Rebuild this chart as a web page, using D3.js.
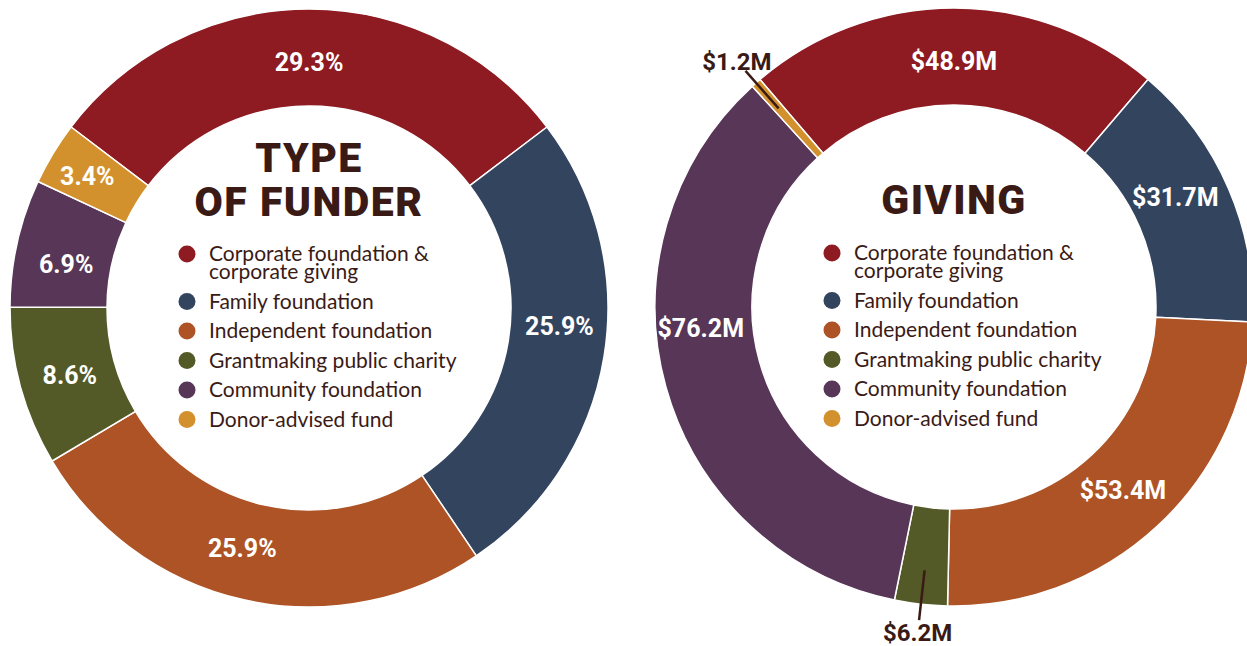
<!DOCTYPE html>
<html>
<head>
<meta charset="utf-8">
<script src="https://cdn.jsdelivr.net/npm/d3@7"></script>
<style>
  html, body { margin: 0; padding: 0; background: #fff; }
  svg { display: block; }
</style>
</head>
<body>
<div id="chart"></div>
<script>
const categories = [
  ["Corporate foundation &", "corporate giving"],
  ["Family foundation"],
  ["Independent foundation"],
  ["Grantmaking public charity"],
  ["Community foundation"],
  ["Donor-advised fund"]
];
const funderShare = [29.3, 25.9, 25.9, 8.6, 6.9, 3.4];
const givingMillions = [48.9, 31.7, 53.4, 6.2, 76.2, 1.2];
const colors = ["#8e1a22", "#33445f", "#ad5325", "#535a27", "#573657", "#d2912c"];

const width = 1247, height = 646;
const outerR = 299, innerR = 202;
const ink = "#3a1a15";

const svg = d3.select("#chart").append("svg")
  .attr("width", width).attr("height", height);

function donut(cx, cy, values, fmt, title, shift, outside) {
  const total = d3.sum(values);
  const start = -values[0] / total * Math.PI;
  const pie = d3.pie().sort(null).startAngle(start).endAngle(start + 2 * Math.PI);
  const arcs = pie(values);
  const arc = d3.arc().innerRadius(innerR).outerRadius(outerR);

  const g = svg.append("g").attr("transform", `translate(${cx},${cy})`);

  g.selectAll("path")
    .data(arcs)
    .join("path")
    .attr("d", arc)
    .attr("fill", (d, i) => colors[i])
    .attr("stroke", "#fff")
    .attr("stroke-width", 1.5);

  const polar = (a, r) => [Math.sin(a) * r, -Math.cos(a) * r];
  const mid = d => (d.startAngle + d.endAngle) / 2;

  // labels inside the ring
  g.selectAll("text.val")
    .data(arcs.filter((d, i) => !outside.includes(i)))
    .join("text")
    .attr("class", "val")
    .attr("transform", d => {
      const s = shift[d.index] || [0, 0];
      const p = polar(mid(d) + s[0] * Math.PI / 180, 248 + s[1]);
      return `translate(${p[0]},${p[1] + 1.5})`;
    })
    .attr("text-anchor", "middle")
    .attr("dy", "0.36em")
    .attr("fill", "#fff")
    .style("font-family", "Roboto, sans-serif")
    .style("font-weight", "bold")
    .style("font-size", "25px")
    .text(d => fmt(d.data));

  // small slices get a leader line and label outside
  const small = arcs.filter((d, i) => outside.includes(i));
  g.selectAll("line.lead")
    .data(small)
    .join("line")
    .attr("class", "lead")
    .attr("x1", d => polar(mid(d), 265)[0])
    .attr("y1", d => polar(mid(d), 265)[1])
    .attr("x2", d => polar(mid(d), 315)[0])
    .attr("y2", d => polar(mid(d), 315)[1])
    .attr("stroke", ink)
    .attr("stroke-width", 2.5);

  g.selectAll("text.out")
    .data(small)
    .join("text")
    .attr("class", "out")
    .attr("transform", d => {
      const p = polar(mid(d), 328);
      return `translate(${p[0]},${p[1]})`;
    })
    .attr("text-anchor", "middle")
    .attr("dy", "0.35em")
    .attr("fill", ink)
    .style("font-family", "Roboto, sans-serif")
    .style("font-weight", "bold")
    .style("font-size", "24px")
    .text(d => fmt(d.data));

  // title
  const t = g.append("text")
    .attr("text-anchor", "middle")
    .attr("fill", ink)
    .style("font-family", "Roboto, sans-serif")
    .style("font-weight", 900)
    .style("font-size", "41px")
    .style("letter-spacing", "1.5px");
  title.forEach((line, i) => {
    t.append("tspan").attr("x", 0)
      .attr("y", (title.length === 1 ? -93 : -136) + i * 44)
      .text(line);
  });

  // legend
  let y = -47;
  categories.forEach((lines, i) => {
    g.append("circle")
      .attr("cx", -122).attr("cy", y - 7)
      .attr("r", 8.5)
      .attr("fill", colors[i]);
    const lt = g.append("text")
      .attr("fill", ink)
      .style("font-family", "Lato, sans-serif")
      .style("font-size", "21px");
    lines.forEach((s, j) => {
      lt.append("tspan").attr("x", -100).attr("y", y + j * 18).text(s);
    });
    y += (lines.length - 1) * 18 + 29.5;
  });
}

// per-label [angle shift in degrees, radius shift] where the label sits off the centroid
donut(309, 308, funderShare, v => v.toFixed(1) + "%", ["TYPE", "OF FUNDER"],
  {1: [-5.5, 3], 2: [3, 0], 4: [-2, -1], 5: [0, 11]}, []);
donut(954, 307, givingMillions, v => "$" + v.toFixed(1) + "M", ["GIVING"],
  {1: [-3.5, 0], 4: [11, 6]}, [3, 5]);
</script>
</body>
</html>
